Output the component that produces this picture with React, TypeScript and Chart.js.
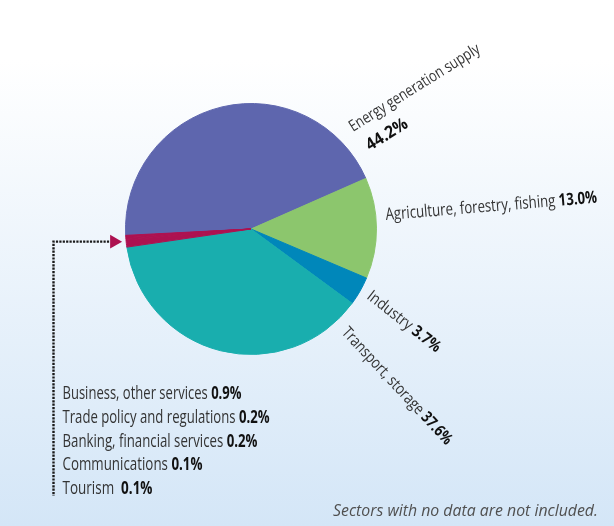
import React, { useEffect, useRef } from "react";
import { Chart, registerables } from "chart.js";

Chart.register(...registerables);

const categories = [
  "Energy generation supply",
  "Agriculture, forestry, fishing",
  "Industry",
  "Transport, storage",
  "Business, other services",
  "Trade policy and regulations",
  "Banking, financial services",
  "Communications",
  "Tourism",
];
const shares = [44.2, 13.0, 3.7, 37.6, 0.9, 0.2, 0.2, 0.1, 0.1];
const shareLabels = ["44.2%", "13.0%", "3.7%", "37.6%", "0.9%", "0.2%", "0.2%", "0.1%", "0.1%"];
const sliceColors = ["#5e66ae", "#8cc66d", "#0087ba", "#19aeae", "#ad1150", "#ad1150", "#ad1150", "#ad1150", "#ad1150"];
const footnote = "Sectors with no data are not included.";

const FONT = '"Open Sans", "Noto Sans", sans-serif';

function drawLabel(
  ctx: CanvasRenderingContext2D,
  x: number,
  y: number,
  angleDeg: number,
  name: string,
  pct: string,
  size: number,
  width: number,
  gap = " "
) {
  ctx.save();
  ctx.translate(x, y);
  ctx.rotate((angleDeg * Math.PI) / 180);
  const nf = `${size}px ${FONT}`;
  const bf = `bold ${size}px ${FONT}`;
  const nameText = name ? name + (pct ? gap : "") : "";
  ctx.font = nf;
  const w1 = nameText ? ctx.measureText(nameText).width : 0;
  ctx.font = bf;
  const w2 = pct ? ctx.measureText(pct).width : 0;
  const sx = width / (w1 + w2);
  ctx.scale(sx, 1);
  ctx.textAlign = "left";
  ctx.textBaseline = "alphabetic";
  if (nameText) {
    ctx.font = nf;
    ctx.fillStyle = "#333333";
    ctx.fillText(nameText, 0, 0);
  }
  if (pct) {
    ctx.font = bf;
    ctx.fillStyle = "#111111";
    ctx.fillText(pct, w1, 0);
  }
  ctx.restore();
}

const labelPlugin = {
  id: "sectorLabels",
  afterDraw(chart: any) {
    const ctx: CanvasRenderingContext2D = chart.ctx;
    const meta = chart.getDatasetMeta(0);
    const arcs = meta.data;

    // rotated slice labels
    drawLabel(ctx, 353, 132, -32, categories[0], "", 16, 151);
    drawLabel(ctx, 370, 151, -32, "", shareLabels[0], 17, 46);
    drawLabel(ctx, 386, 220, -4.7, categories[1], shareLabels[1], 17, 212);
    drawLabel(ctx, 366, 298, 38, categories[2], shareLabels[2], 16, 89);
    drawLabel(ctx, 341, 333, 47, categories[3], shareLabels[3], 16, 154);

    // small sectors list
    const listW = [179, 207, 195, 140, 90];
    const listY = [399, 423, 447, 470, 494];
    for (let i = 0; i < 5; i++) {
      drawLabel(ctx, 62.5, listY[i], 0, categories[4 + i], shareLabels[4 + i], 18.5, listW[i], i === 4 ? "  " : " ");
    }

    // pointer to the combined small slice
    const first = arcs[4];
    const last = arcs[8];
    const mid = (first.startAngle + last.endAngle) / 2;
    const r = first.outerRadius + 4;
    const tipX = first.x + Math.cos(mid) * r;
    const tipY = first.y + Math.sin(mid) * r;
    const lineX = 53.5;
    ctx.save();
    ctx.strokeStyle = "#1a1a1a";
    ctx.lineWidth = 2.4;
    ctx.setLineDash([2.2, 1.2]);
    ctx.beginPath();
    ctx.moveTo(tipX - 13, tipY);
    ctx.lineTo(lineX, tipY);
    ctx.lineTo(lineX, 496);
    ctx.stroke();
    ctx.setLineDash([]);
    ctx.fillStyle = "#ad1150";
    ctx.beginPath();
    ctx.moveTo(tipX, tipY);
    ctx.lineTo(tipX - 12, tipY - 6.8);
    ctx.lineTo(tipX - 12, tipY + 6.8);
    ctx.closePath();
    ctx.fill();
    ctx.restore();

    // footnote
    ctx.save();
    ctx.translate(333, 516);
    ctx.font = `italic 15.5px ${FONT}`;
    const fw = ctx.measureText(footnote).width;
    ctx.scale(265 / fw, 1);
    ctx.fillStyle = "#505050";
    ctx.textAlign = "left";
    ctx.textBaseline = "alphabetic";
    ctx.fillText(footnote, 0, 0);
    ctx.restore();
  },
};

export default function App() {
  const ref = useRef<HTMLCanvasElement | null>(null);

  useEffect(() => {
    document.body.style.margin = "0";
    if (!ref.current) return;
    const chart = new Chart(ref.current, {
      type: "pie",
      data: {
        labels: categories,
        datasets: [
          {
            data: shares,
            backgroundColor: sliceColors,
            borderColor: sliceColors,
            borderWidth: 1,
            hoverOffset: 0,
          },
        ],
      },
      options: {
        animation: false,
        responsive: false,
        events: [],
        rotation: 267.1,
        layout: { padding: { left: 125, right: 237, top: 103, bottom: 171 } },
        plugins: {
          legend: { display: false },
          tooltip: { enabled: false },
        },
      },
      plugins: [labelPlugin],
    } as any);
    return () => chart.destroy();
  }, []);

  return (
    <div
      style={{
        width: 614,
        height: 526,
        position: "relative",
        background: "linear-gradient(to bottom, #ffffff 0px, #ffffff 60px, #d4e6f7 526px)",
        overflow: "hidden",
      }}
    >
      <canvas ref={ref} width={614} height={526} style={{ width: 614, height: 526, display: "block" }} />
    </div>
  );
}
